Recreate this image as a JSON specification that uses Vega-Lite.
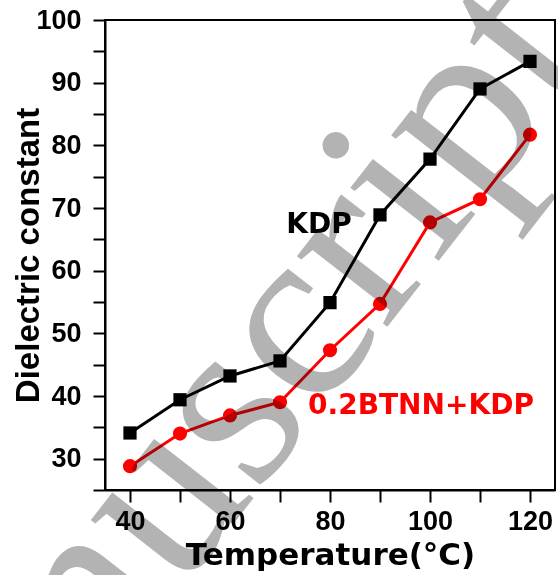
{
  "$schema": "https://vega.github.io/schema/vega-lite/v6.json",
  "width": 450,
  "height": 470,
  "autosize": {"type": "none"},
  "padding": {"left": 105, "top": 20, "right": 3, "bottom": 85},
  "background": "white",
  "config": {
    "view": {"stroke": "#000000", "strokeWidth": 2},
    "axis": {"grid": false, "domainColor": "#000000", "domainWidth": 2, "tickColor": "#000000", "tickWidth": 2, "tickSize": 12,
      "labelFont": "Liberation Sans", "labelFontWeight": "bold", "labelFontSize": 27, "labelColor": "#000000",
      "titleColor": "#000000", "titleFontWeight": "bold"}
  },
  "data": {"values": [
    {"series": "KDP", "x": 40, "y": 34.1},
    {"series": "KDP", "x": 50, "y": 39.4},
    {"series": "KDP", "x": 60, "y": 43.2},
    {"series": "KDP", "x": 70, "y": 45.6},
    {"series": "KDP", "x": 80, "y": 54.9},
    {"series": "KDP", "x": 90, "y": 68.9},
    {"series": "KDP", "x": 100, "y": 77.8},
    {"series": "KDP", "x": 110, "y": 89.0},
    {"series": "KDP", "x": 120, "y": 93.4},
    {"series": "0.2BTNN+KDP", "x": 40, "y": 28.8},
    {"series": "0.2BTNN+KDP", "x": 50, "y": 34.0},
    {"series": "0.2BTNN+KDP", "x": 60, "y": 36.9},
    {"series": "0.2BTNN+KDP", "x": 70, "y": 39.0},
    {"series": "0.2BTNN+KDP", "x": 80, "y": 47.3},
    {"series": "0.2BTNN+KDP", "x": 90, "y": 54.7},
    {"series": "0.2BTNN+KDP", "x": 100, "y": 67.7},
    {"series": "0.2BTNN+KDP", "x": 110, "y": 71.4},
    {"series": "0.2BTNN+KDP", "x": 120, "y": 81.7}
  ]},
  "encoding": {
    "x": {"field": "x", "type": "quantitative",
      "scale": {"domain": [35, 125], "nice": false, "zero": false},
      "axis": {"values": [40, 50, 60, 70, 80, 90, 100, 110, 120],
        "labelExpr": "datum.value % 20 === 0 ? datum.label : ''",
        "labelPadding": 6,
        "title": "Temperature(°C)", "titleFont": "DejaVu Sans", "titleFontSize": 31, "titlePadding": 6,
        "encoding": {"ticks": {"update": {"y2": {"signal": "datum.value % 20 === 0 ? 12 : 6"}}}}}},
    "y": {"field": "y", "type": "quantitative",
      "scale": {"domain": [25, 100], "nice": false, "zero": false},
      "axis": {"values": [25, 30, 35, 40, 45, 50, 55, 60, 65, 70, 75, 80, 85, 90, 95, 100],
        "labelExpr": "datum.value % 10 === 0 ? datum.label : ''",
        "labelPadding": 12,
        "title": "Dielectric constant", "titleFont": "Liberation Sans", "titleFontSize": 33, "titlePadding": -10,
        "encoding": {"ticks": {"update": {"x2": {"signal": "datum.value % 10 === 0 ? -12 : -6"}}}}}}
  },
  "layer": [
    {
      "mark": {"type": "line", "strokeWidth": 3},
      "encoding": {
        "color": {"field": "series", "type": "nominal", "scale": {"domain": ["KDP", "0.2BTNN+KDP"], "range": ["#000000", "#ff0000"]}, "legend": null}
      }
    },
    {
      "mark": {"type": "point", "filled": true, "opacity": 1},
      "encoding": {
        "color": {"field": "series", "type": "nominal", "scale": {"domain": ["KDP", "0.2BTNN+KDP"], "range": ["#000000", "#ff0000"]}, "legend": null},
        "shape": {"field": "series", "type": "nominal", "scale": {"domain": ["KDP", "0.2BTNN+KDP"], "range": ["square", "circle"]}, "legend": null},
        "size": {"field": "series", "type": "nominal", "scale": {"domain": ["KDP", "0.2BTNN+KDP"], "range": [175, 200]}, "legend": null}
      }
    },
    {
      "data": {"values": [
        {"series": "KDP", "x": 77.8, "y": 67.3, "label": "KDP"},
        {"series": "0.2BTNN+KDP", "x": 98.2, "y": 38.4, "label": "0.2BTNN+KDP"}
      ]},
      "mark": {"type": "text", "font": "DejaVu Sans", "fontWeight": "bold", "fontSize": 28, "align": "center", "baseline": "middle"},
      "encoding": {
        "text": {"field": "label"},
        "color": {"field": "series", "type": "nominal", "scale": {"domain": ["KDP", "0.2BTNN+KDP"], "range": ["#000000", "#ff0000"]}, "legend": null}
      }
    },
    {
      "data": {"values": [{"x": -6.6, "y": -49.1, "label": "Manuscript"}]},
      "mark": {"type": "text", "font": "Liberation Serif", "fontSize": 250, "angle": -52, "align": "left", "baseline": "alphabetic", "color": "#b3b3b3", "blend": "multiply"},
      "encoding": {"text": {"field": "label"}}
    }
  ]
}
